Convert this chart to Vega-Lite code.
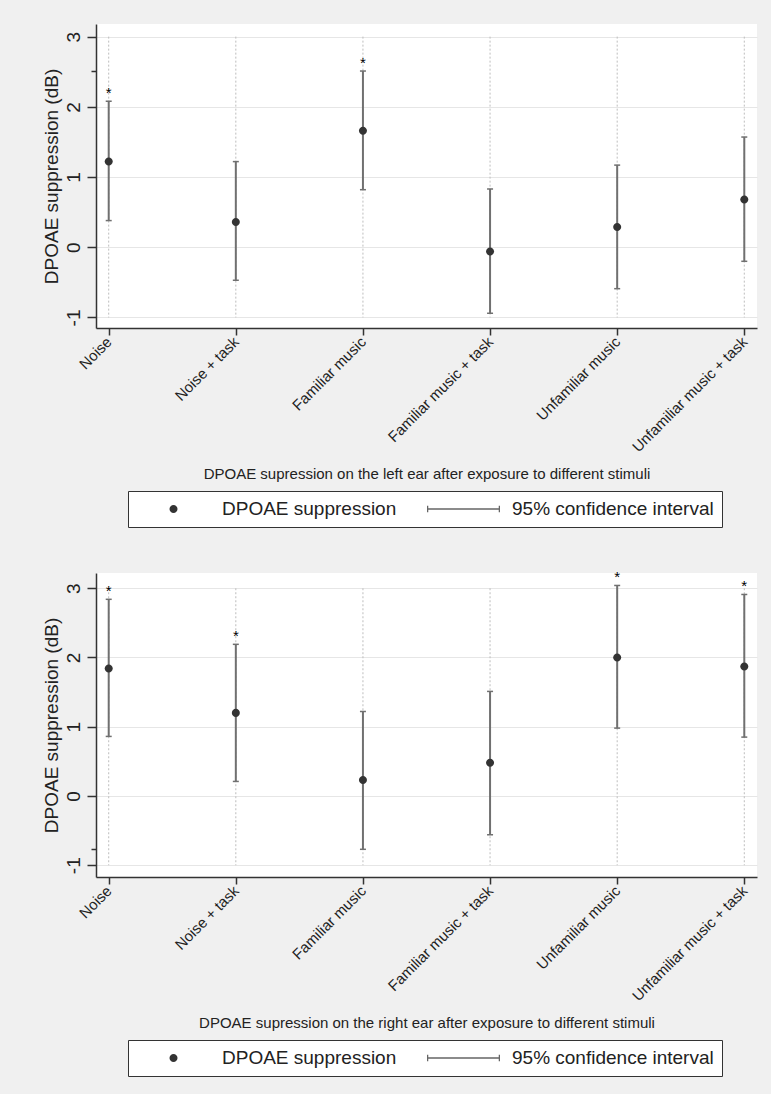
{
  "$schema": "https://vega.github.io/schema/vega-lite/v6.json",
  "background": "#f0f0f0",
  "padding": {"left": 42, "top": 24, "right": 15, "bottom": 21},
  "spacing": 42,
  "config": {
    "font": "Liberation Sans",
    "view": {"stroke": null, "fill": "#ffffff"},
    "axis": {"labelFont": "Liberation Sans", "titleFont": "Liberation Sans", "labelColor": "#222", "titleColor": "#222", "titleFontWeight": "normal"},
    "legend": {"labelFont": "Liberation Sans"}
  },
  "datasets": {
    "left": [
      {"stimulus": "Noise", "est": 1.22, "lo": 0.38, "hi": 2.08, "sig": "*", "series": "DPOAE suppression"},
      {"stimulus": "Noise + task", "est": 0.36, "lo": -0.47, "hi": 1.22, "sig": "", "series": "DPOAE suppression"},
      {"stimulus": "Familiar music", "est": 1.66, "lo": 0.82, "hi": 2.51, "sig": "*", "series": "DPOAE suppression"},
      {"stimulus": "Familiar music + task", "est": -0.06, "lo": -0.94, "hi": 0.83, "sig": "", "series": "DPOAE suppression"},
      {"stimulus": "Unfamiliar music", "est": 0.29, "lo": -0.59, "hi": 1.17, "sig": "", "series": "DPOAE suppression"},
      {"stimulus": "Unfamiliar music + task", "est": 0.68, "lo": -0.2, "hi": 1.57, "sig": "", "series": "DPOAE suppression"}
    ],
    "right": [
      {"stimulus": "Noise", "est": 1.84, "lo": 0.86, "hi": 2.84, "sig": "*", "series": "DPOAE suppression"},
      {"stimulus": "Noise + task", "est": 1.2, "lo": 0.21, "hi": 2.19, "sig": "*", "series": "DPOAE suppression"},
      {"stimulus": "Familiar music", "est": 0.23, "lo": -0.77, "hi": 1.22, "sig": "", "series": "DPOAE suppression"},
      {"stimulus": "Familiar music + task", "est": 0.48, "lo": -0.56, "hi": 1.51, "sig": "", "series": "DPOAE suppression"},
      {"stimulus": "Unfamiliar music", "est": 2.0, "lo": 0.98, "hi": 3.04, "sig": "*", "series": "DPOAE suppression"},
      {"stimulus": "Unfamiliar music + task", "est": 1.87, "lo": 0.85, "hi": 2.91, "sig": "*", "series": "DPOAE suppression"}
    ]
  },
  "resolve": {"scale": {"shape": "independent", "color": "independent", "x": "independent", "y": "independent"}, "legend": {"shape": "independent", "color": "independent"}},
  "vconcat": [
    {
      "width": 661,
      "height": 304,
      "data": {"name": "left"},
      "encoding": {
        "x": {"field": "stimulus", "type": "nominal", "scale": {"type": "point", "padding": 0.1, "domain": ["Noise", "Noise + task", "Familiar music", "Familiar music + task", "Unfamiliar music", "Unfamiliar music + task"]}, "axis": {"title": "DPOAE supression on the left ear after exposure to different stimuli", "titleFontSize": 15, "titlePadding": 12, "labelAngle": -45, "labelBaseline": "middle", "labelAlign": "right", "labelFontSize": 15, "labelPadding": 4, "tickSize": 7, "tickWidth": 1.5, "tickColor": "#333", "domainColor": "#333", "domainWidth": 1.5, "grid": false}}
      },
      "layer": [
        {
          "mark": {"type": "rule", "strokeDash": [2, 2], "color": "#bdbdbd", "strokeWidth": 1},
          "encoding": {
            "y": {"datum": 3, "type": "quantitative", "scale": {"domain": [-1.15, 3.18], "nice": false, "zero": false}, "axis": {"title": "DPOAE suppression (dB)", "titleFontSize": 19, "titlePadding": 3, "values": [-1, 0, 1, 2, 2.51, 3], "labelExpr": "abs(datum.value - round(datum.value)) > 0.001 ? '' : toString(datum.value)", "labelAngle": -90, "labelFontSize": 19, "labelPadding": 4, "grid": true, "gridColor": "#e6e6e6", "gridWidth": 1, "gridOpacity": {"condition": {"test": "abs(datum.value - round(datum.value)) > 0.001", "value": 0}, "value": 1}, "tickSize": {"condition": {"test": "abs(datum.value - round(datum.value)) > 0.001", "value": 5}, "value": 9}, "tickWidth": 1.5, "tickColor": "#333", "domainColor": "#333", "domainWidth": 1.5}},
            "y2": {"datum": -1}
          }
        },
        {
          "mark": {"type": "rule", "color": "#707070", "strokeWidth": 2},
          "encoding": {
            "y": {"field": "lo", "type": "quantitative"},
            "y2": {"field": "hi"}
          }
        },
        {
          "mark": {"type": "tick", "color": "#707070", "size": 6, "thickness": 1.5, "orient": "horizontal", "opacity": 1},
          "encoding": {
            "y": {"field": "lo", "type": "quantitative"}
          }
        },
        {
          "mark": {"type": "tick", "color": "#707070", "size": 6, "thickness": 1.5, "orient": "horizontal", "opacity": 1},
          "encoding": {
            "y": {"field": "hi", "type": "quantitative"}
          }
        },
        {
          "mark": {"type": "point", "filled": true, "opacity": 1, "size": 5329},
          "encoding": {
            "y": {"field": "est", "type": "quantitative"},
            "color": {"field": "series", "type": "nominal", "scale": {"domain": ["DPOAE suppression", "95% confidence interval"], "range": ["#333333", "#666666"]}, "legend": {"title": null, "orient": "none", "legendX": 32, "legendY": 467, "direction": "horizontal", "columns": 2, "columnPadding": 29, "labelOffset": 11, "symbolSize": 5329, "clipHeight": 20, "padding": 8, "strokeColor": "#333", "fillColor": "#ffffff", "labelFontSize": 19, "labelLimit": 400, "labelColor": "#222", "symbolOpacity": 1}},
            "shape": {"field": "series", "type": "nominal", "scale": {"domain": ["DPOAE suppression", "95% confidence interval"], "range": ["M-0.11,0a0.11,0.11 0 1,0 0.22,0a0.11,0.11 0 1,0 -0.22,0Z", "M-1,-0.02H1V0.02H-1Z M-1,-0.09H-0.965V0.09H-1Z M0.965,-0.09H1V0.09H0.965Z"]}, "legend": {"title": null, "orient": "none", "legendX": 32, "legendY": 467, "direction": "horizontal", "columns": 2, "columnPadding": 29, "labelOffset": 11, "symbolSize": 5329, "clipHeight": 20, "padding": 8, "strokeColor": "#333", "fillColor": "#ffffff", "labelFontSize": 19, "labelLimit": 400, "labelColor": "#222", "symbolOpacity": 1}}
          }
        },
        {
          "mark": {"type": "text", "fontSize": 15, "dy": -3, "baseline": "alphabetic", "color": "#000"},
          "encoding": {
            "y": {"field": "hi", "type": "quantitative"},
            "text": {"field": "sig"}
          }
        }
      ]
    },
    {
      "width": 661,
      "height": 304,
      "data": {"name": "right"},
      "encoding": {
        "x": {"field": "stimulus", "type": "nominal", "scale": {"type": "point", "padding": 0.1, "domain": ["Noise", "Noise + task", "Familiar music", "Familiar music + task", "Unfamiliar music", "Unfamiliar music + task"]}, "axis": {"title": "DPOAE supression on the right ear after exposure to different stimuli", "titleFontSize": 15, "titlePadding": 12, "labelAngle": -45, "labelBaseline": "middle", "labelAlign": "right", "labelFontSize": 15, "labelPadding": 4, "tickSize": 7, "tickWidth": 1.5, "tickColor": "#333", "domainColor": "#333", "domainWidth": 1.5, "grid": false}}
      },
      "layer": [
        {
          "mark": {"type": "rule", "strokeDash": [2, 2], "color": "#bdbdbd", "strokeWidth": 1},
          "encoding": {
            "y": {"datum": 3, "type": "quantitative", "scale": {"domain": [-1.17, 3.22], "nice": false, "zero": false}, "axis": {"title": "DPOAE suppression (dB)", "titleFontSize": 19, "titlePadding": 3, "values": [-1, -0.77, 0, 1, 2, 3], "labelExpr": "abs(datum.value - round(datum.value)) > 0.001 ? '' : toString(datum.value)", "labelAngle": -90, "labelFontSize": 19, "labelPadding": 4, "grid": true, "gridColor": "#e6e6e6", "gridWidth": 1, "gridOpacity": {"condition": {"test": "abs(datum.value - round(datum.value)) > 0.001", "value": 0}, "value": 1}, "tickSize": {"condition": {"test": "abs(datum.value - round(datum.value)) > 0.001", "value": 5}, "value": 9}, "tickWidth": 1.5, "tickColor": "#333", "domainColor": "#333", "domainWidth": 1.5}},
            "y2": {"datum": -1}
          }
        },
        {
          "mark": {"type": "rule", "color": "#707070", "strokeWidth": 2},
          "encoding": {
            "y": {"field": "lo", "type": "quantitative"},
            "y2": {"field": "hi"}
          }
        },
        {
          "mark": {"type": "tick", "color": "#707070", "size": 6, "thickness": 1.5, "orient": "horizontal", "opacity": 1},
          "encoding": {
            "y": {"field": "lo", "type": "quantitative"}
          }
        },
        {
          "mark": {"type": "tick", "color": "#707070", "size": 6, "thickness": 1.5, "orient": "horizontal", "opacity": 1},
          "encoding": {
            "y": {"field": "hi", "type": "quantitative"}
          }
        },
        {
          "mark": {"type": "point", "filled": true, "opacity": 1, "size": 5329},
          "encoding": {
            "y": {"field": "est", "type": "quantitative"},
            "color": {"field": "series", "type": "nominal", "scale": {"domain": ["DPOAE suppression", "95% confidence interval"], "range": ["#333333", "#666666"]}, "legend": {"title": null, "orient": "none", "legendX": 32, "legendY": 467, "direction": "horizontal", "columns": 2, "columnPadding": 29, "labelOffset": 11, "symbolSize": 5329, "clipHeight": 20, "padding": 8, "strokeColor": "#333", "fillColor": "#ffffff", "labelFontSize": 19, "labelLimit": 400, "labelColor": "#222", "symbolOpacity": 1}},
            "shape": {"field": "series", "type": "nominal", "scale": {"domain": ["DPOAE suppression", "95% confidence interval"], "range": ["M-0.11,0a0.11,0.11 0 1,0 0.22,0a0.11,0.11 0 1,0 -0.22,0Z", "M-1,-0.02H1V0.02H-1Z M-1,-0.09H-0.965V0.09H-1Z M0.965,-0.09H1V0.09H0.965Z"]}, "legend": {"title": null, "orient": "none", "legendX": 32, "legendY": 467, "direction": "horizontal", "columns": 2, "columnPadding": 29, "labelOffset": 11, "symbolSize": 5329, "clipHeight": 20, "padding": 8, "strokeColor": "#333", "fillColor": "#ffffff", "labelFontSize": 19, "labelLimit": 400, "labelColor": "#222", "symbolOpacity": 1}}
          }
        },
        {
          "mark": {"type": "text", "fontSize": 15, "dy": -3, "baseline": "alphabetic", "color": "#000"},
          "encoding": {
            "y": {"field": "hi", "type": "quantitative"},
            "text": {"field": "sig"}
          }
        }
      ]
    }
  ]
}
